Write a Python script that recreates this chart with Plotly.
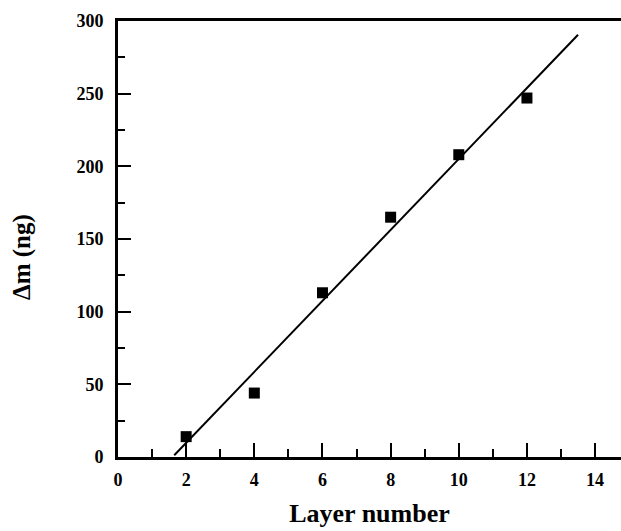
import numpy as np
import plotly.graph_objects as go

layers = [2, 4, 6, 8, 10, 12]
delta_m = [14, 44, 113, 165, 208, 247]
fit_x_range = [1.65, 13.5]

x_ticks = [0, 2, 4, 6, 8, 10, 12, 14]
y_ticks = [0, 50, 100, 150, 200, 250, 300]

slope, intercept = np.polyfit(layers, delta_m, 1)
fit_x = np.array(fit_x_range)
fit_y = slope * fit_x + intercept

font = "Liberation Serif"

fig = go.Figure()
fig.add_trace(go.Scatter(x=fit_x, y=fit_y, mode="lines",
                         line=dict(color="black", width=2), showlegend=False))
fig.add_trace(go.Scatter(x=layers, y=delta_m, mode="markers",
                         marker=dict(symbol="square", size=11, color="black"),
                         showlegend=False))

W, H = 621, 531
L, R, T, B = 118, 0, 21, 74
pw, ph = W - L - R, H - T - B

fig.update_layout(
    width=W, height=H,
    margin=dict(l=L, r=R, t=T, b=B),
    plot_bgcolor="white", paper_bgcolor="white",
    font=dict(family=font, color="black"),
    xaxis=dict(
        range=[0, 14.76], tickvals=x_ticks, ticks="inside", ticklen=14, tickwidth=2,
        tickcolor="black", showline=True, linewidth=3, linecolor="black", mirror=True,
        showgrid=False, zeroline=False, automargin=False,
        tickfont=dict(family=font, size=18, color="black", weight="bold"),
        ticklabelstandoff=4,
        minor=dict(dtick=1, tick0=0, ticks="inside", ticklen=8, tickwidth=2, tickcolor="black"),
        title=dict(text="<b>Layer number</b>", font=dict(family=font, size=26), standoff=16),
    ),
    yaxis=dict(
        range=[0, 300], tickvals=y_ticks, ticks="inside", ticklen=13, tickwidth=2,
        tickcolor="black", showline=True, linewidth=3, linecolor="black",
        showgrid=False, zeroline=False, automargin=False,
        tickfont=dict(family=font, size=18, color="black", weight="bold"),
        ticklabelstandoff=8,
        minor=dict(dtick=25, tick0=0, ticks="inside", ticklen=7, tickwidth=2, tickcolor="black"),
    ),
    annotations=[dict(
        text="<b>Δm (ng)</b>", textangle=-90, showarrow=False,
        xref="paper", yref="paper",
        x=(22 - L) / pw, y=(H - B - 257) / ph,
        xanchor="center", yanchor="middle",
        font=dict(family=font, size=25, color="black"),
    )],
)

fig.write_html(
    "out.html",
    config={"displayModeBar": False},
    post_script="document.body.style.margin='0';document.body.style.overflow='hidden';",
)
